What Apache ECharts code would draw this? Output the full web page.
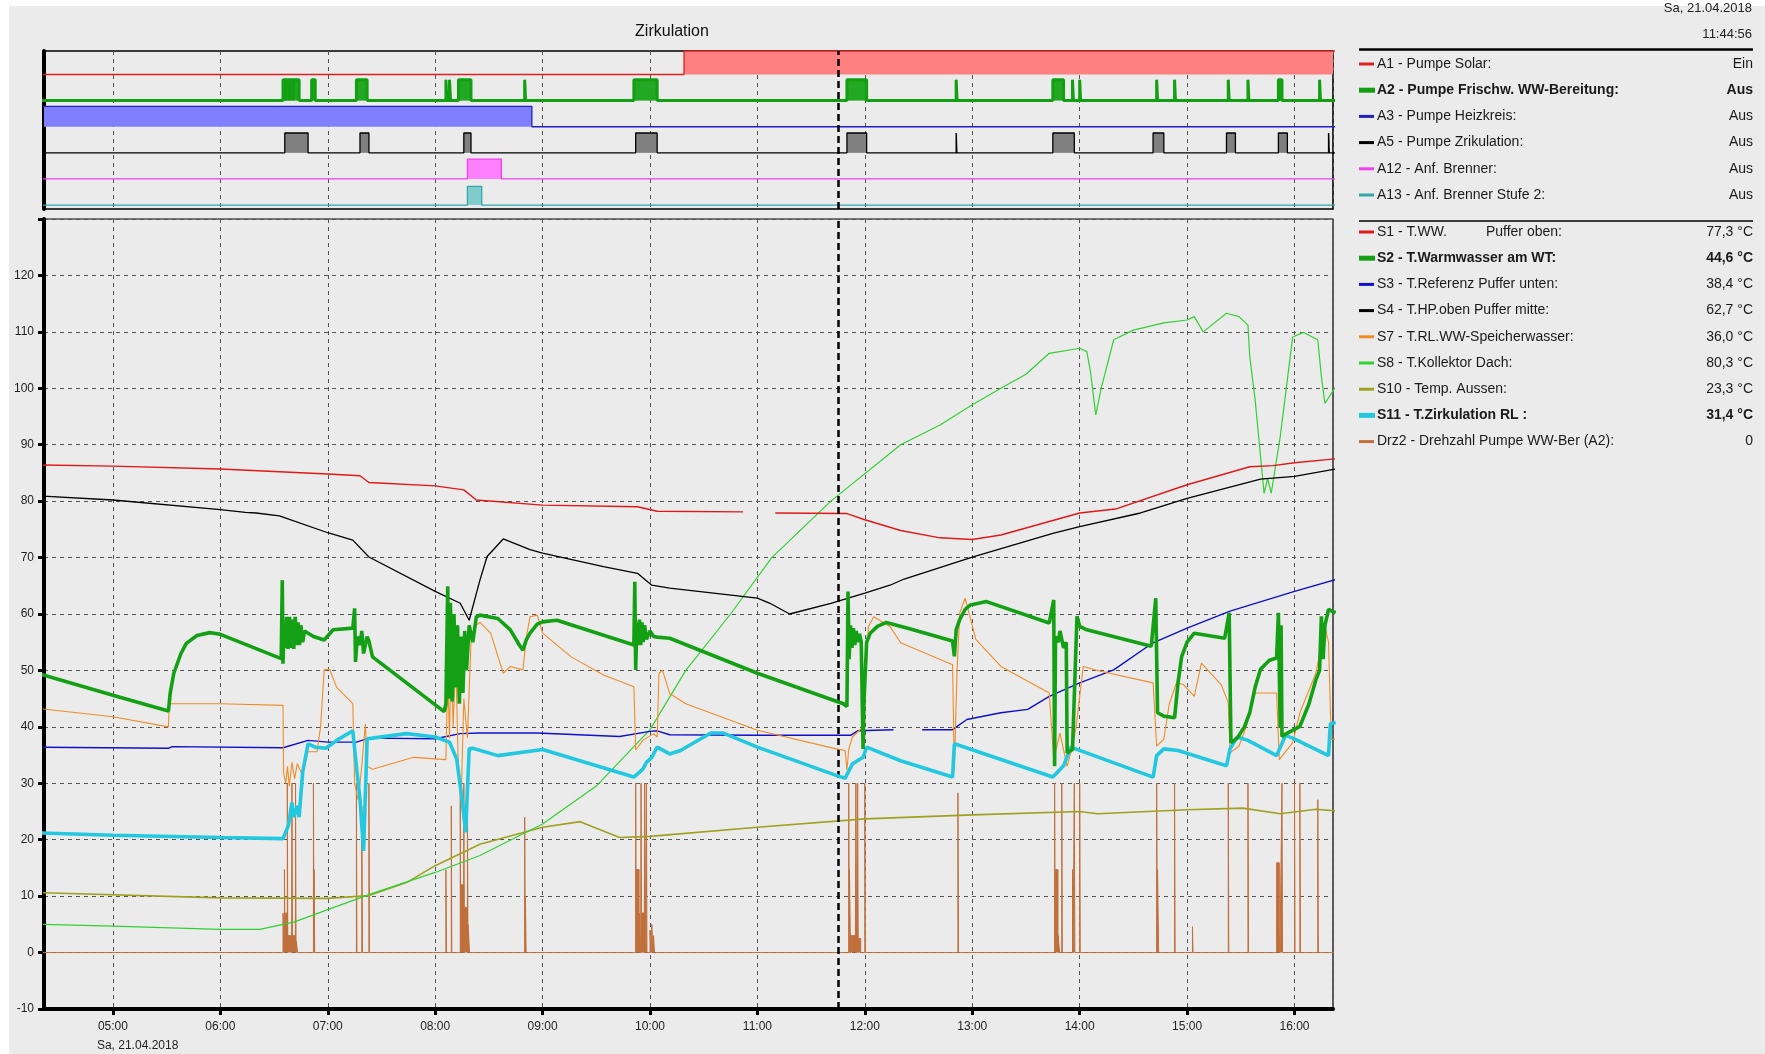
<!DOCTYPE html>
<html><head><meta charset="utf-8">
<script src="https://cdn.jsdelivr.net/npm/echarts@6/dist/echarts.min.js"></script>
<style>html,body{margin:0;padding:0;background:#ebebeb}#c{width:1765px;height:1054px}</style>
</head><body><div id="c"></div><script>
// ---------- axis / time settings ----------
const xStart = "04:21:30", xEnd = "16:21:30", cursorAt = "11:44:56";
const yMin = -10, yMax = 130, yStep = 10;
const dateLabel = "Sa, 21.04.2018";

// ---------- analog series [time, value] ----------
const s1 = [["04:20",86.4],["05:00",86.2],["06:00",85.7],["07:00",84.8],["07:18",84.5],["07:23",83.3],["08:00",82.7],["08:16",82.0],["08:23",80.2],["09:00",79.3],["09:53",79.0],["10:04",78.2],["10:52",78.1],["10:53",null],["11:10",77.9],["11:50",77.8],["12:00",76.7],["12:20",74.8],["12:42",73.5],["13:00",73.2],["13:16",74.0],["14:00",77.9],["14:20",78.6],["15:00",82.9],["15:35",86.1],["15:48",86.3],["16:00",86.8],["16:23",87.5]];
const s2 = [["04:20",49.3],["05:00",45.6],["05:31",42.8],["05:32",46],["05:34",49.5],["05:38",53],["05:41",54.8],["05:47",56.2],["05:54",56.7],["06:00",56.4],["06:34",52.1],["06:34.6",66.0],["06:35",51.2],["06:35.6",58],["06:36.3",54],["06:37",59.5],["06:37.8",53.8],["06:38.6",59.5],["06:39.4",54],["06:40.2",59],["06:41",53.8],["06:41.8",59.5],["06:42.6",54.5],["06:43.4",58.5],["06:44.2",54.5],["06:45",58],["06:46",55],["06:47",57],["06:52",56.0],["06:58",55.4],["07:03",57.2],["07:14",57.5],["07:15",61.0],["07:15.5",51.5],["07:16.5",56],["07:18",54.5],["07:19",57],["07:20",53],["07:22",56],["07:23",55.2],["07:25",52.4],["08:05",42.7],["08:06",44],["08:07",64.9],["08:07.5",45],["08:08.5",62],["08:09.5",44.5],["08:10.5",60],["08:11.5",47],["08:12.5",58],["08:13.5",44.1],["08:14.5",56],["08:15.5",46],["08:16.5",57],["08:17.5",50],["08:19",58],["08:21",55],["08:23",59.5],["08:25",59.8],["08:35",59.2],["08:42",57.2],["08:47",54.5],["08:49",53.6],["08:51",55.5],["08:53",56.6],["08:57",58.2],["09:00",58.6],["09:08",58.9],["09:51",54.5],["09:51.5",65.7],["09:52",50.1],["09:52.7",58.5],["09:53.4",54.5],["09:54.1",59],["09:54.8",54.5],["09:55.5",58.5],["09:56.2",55],["09:57",58],["09:58",55.5],["10:00",57],["10:02",56],["10:04",55.9],["10:11",55.7],["11:00",49.5],["11:48",44.1],["11:50",43.6],["11:50.6",64.0],["11:51.2",52],["11:52",58],["11:52.8",54],["11:53.6",57.5],["11:54.4",54.5],["11:55.2",57],["11:56",55],["11:57",56.5],["11:58",55],["11:59",36.1],["11:59.6",45],["12:01",55],["12:03",56.6],["12:07",57.8],["12:12",58.5],["12:25",57.4],["12:49",55.2],["12:50",52.5],["12:51",57.2],["12:53",59],["12:56",60.8],["12:59",61.6],["13:08",62.2],["13:43",58.4],["13:45.5",62.5],["13:46",33.0],["13:46.5",56],["13:48",55],["13:49",57],["13:51",54],["13:52.5",55],["13:53",35.4],["13:56",36.0],["13:58.5",59.6],["14:00",57.8],["14:04",57.2],["14:40",54.3],["14:42.5",62.8],["14:43.5",42.5],["14:47",41.9],["14:53",41.6],["14:55",48],["14:57",52.5],["15:00",55],["15:04",56.6],["15:21",55.7],["15:23.5",60.2],["15:24.5",37.2],["15:28",38],["15:32",40],["15:35",42.5],["15:38",47],["15:41",50.2],["15:46",51.8],["15:50",52.2],["15:51",60.2],["15:52",40],["15:52.5",58],["15:53",38.3],["15:56",38.9],["16:03",40.1],["16:08",44],["16:12",48.4],["16:14",50],["16:15",59.6],["16:16",52],["16:17",58],["16:19",60.8],["16:23",60.2]];
const s3 = [["04:20",36.4],["05:31",36.2],["05:33",36.5],["06:35",36.3],["06:49",37.6],["07:00",37.3],["07:16",37.3],["07:23",38.0],["08:00",37.9],["08:14",38.8],["08:25",38.9],["08:57",38.9],["09:43",38.3],["10:00",39.2],["10:04",39.3],["10:11",38.6],["11:00",38.5],["11:52",38.5],["11:56",39.3],["12:16",39.5],["12:17",null],["12:32",39.5],["12:49",39.5],["12:57",41.3],["13:16",42.5],["13:31",43.1],["13:43",45.4],["14:00",47.8],["14:19",50.1],["14:41",54.9],["15:00",57.5],["15:24",60.5],["16:00",64.0],["16:23",66.1]];
const s4 = [["04:20",80.9],["05:00",80.2],["06:00",78.5],["06:14",78.0],["06:20",77.9],["06:33",77.4],["07:00",74.4],["07:14",73.1],["07:23",70.1],["08:00",64.0],["08:14",61.9],["08:19",58.9],["08:25",66.0],["08:29",70.2],["08:38",73.3],["08:53",71.4],["09:00",70.8],["09:34",68.4],["09:53",67.2],["10:01",65.1],["10:11",64.6],["11:00",62.8],["11:07",61.9],["11:18",60.0],["11:41",61.9],["12:00",63.7],["12:14",65.1],["12:22",66.2],["13:00",70.1],["13:45",74.3],["14:00",75.5],["14:34",77.9],["15:00",80.5],["15:41",83.9],["16:00",84.4],["16:23",85.7]];
const s7 = [["04:20",43.2],["05:00",41.8],["05:31",40.0],["05:31.5",44.1],["06:00",44.1],["06:35",43.8],["06:35.3",32],["06:36.5",30],["06:37.5",33],["06:38.5",29.5],["06:40",33.7],["06:41.5",30.8],["06:43",33.5],["06:45",32],["06:47",33],["06:49",35.6],["06:54",35.6],["06:56",40],["06:58",50.1],["07:01",50.2],["07:05",47],["07:14",44.1],["07:15",30],["07:17",27],["07:19",33],["07:21",40.5],["07:22",33],["07:25",32.5],["07:48",34.6],["08:06",34.2],["08:07",50],["08:08",38],["08:09",55.4],["08:10",40],["08:11.5",52],["08:13",32],["08:14.5",27],["08:16",45],["08:18",38],["08:20",55],["08:22",57.8],["08:25",58.5],["08:31",56.6],["08:38",49.5],["08:42",50.7],["08:49",50.1],["08:51",56],["08:53",59.5],["08:57",59.8],["09:00",56.6],["09:16",52.4],["09:34",49.2],["09:51",47.1],["09:52",35.9],["09:56",37.6],["10:02",38.8],["10:04",38.2],["10:05",49.5],["10:07",50.0],["10:11",45.9],["10:20",44.1],["11:00",39.4],["11:44",36.1],["11:49",35.8],["11:50",32.3],["11:51",36],["11:53",38.2],["11:57",39.4],["11:59",40],["12:02",57.8],["12:05",59.5],["12:14",57.8],["12:20",54.9],["12:49",51.0],["12:50",32.4],["12:51.5",50],["12:53",60.2],["12:56",62.8],["13:02",55.5],["13:16",50.7],["13:43",46.0],["13:45.5",34.2],["13:49",38.9],["13:53",33],["13:56",36.6],["13:58",40],["14:02",50.7],["14:11",49.9],["14:41",47.8],["14:43",36.6],["14:47",37.8],["14:50",44],["14:54",47.8],["14:58",47.5],["15:04",45.4],["15:08",51.3],["15:19",47.5],["15:23",44.3],["15:24",35.4],["15:29",36.6],["15:33",40],["15:38",46.0],["15:50",46.0],["15:51.5",34.2],["15:59",37.2],["16:03",42.5],["16:12",49.6],["16:17",57.8],["16:19",55],["16:20.5",37.8],["16:23",37.8]];
const s8 = [["04:20",5.0],["05:00",4.7],["06:00",4.1],["06:22",4.1],["06:41",5.4],["07:00",7.6],["07:25",10.5],["08:00",14.2],["08:25",17.2],["09:00",22.8],["09:30",29.5],["10:00",39.5],["10:20",50],["10:45",60],["11:08",70],["11:41",80],["12:20",90],["12:42",93.5],["13:00",97.1],["13:16",100],["13:30",102.5],["13:43",106.2],["14:00",107.1],["14:04",106.5],["14:06",103],["14:09",95.3],["14:12",100],["14:19",108.6],["14:30",110.3],["14:47",111.6],["15:00",112.1],["15:04",112.7],["15:09",110.0],["15:22",113.3],["15:29",112.7],["15:34",111.2],["15:35",105.6],["15:38",98],["15:41",88],["15:43",81.4],["15:45",84],["15:47",81.4],["15:52",91.4],["15:59",109.1],["16:05",109.9],["16:13",108.6],["16:15",102.1],["16:17",97.3],["16:23",100.3]];
const s10 = [["04:20",10.6],["06:00",9.7],["07:00",9.6],["07:23",10.1],["07:44",12.4],["08:00",15.4],["08:25",19.2],["09:00",22.2],["09:21",23.2],["09:43",20.4],["10:00",20.6],["11:00",22.2],["12:00",23.7],["13:00",24.4],["14:00",25.0],["14:10",24.6],["15:00",25.3],["15:31",25.6],["15:52",24.6],["16:12",25.4],["16:23",25.1]];
const s11 = [["04:20",21.2],["05:00",20.8],["06:00",20.4],["06:35",20.2],["06:38",22.5],["06:40",26.6],["06:41",24],["06:43",26],["06:44",24.0],["06:46",32.0],["06:49",37.0],["06:53",36.4],["06:59",36.2],["07:05",37.6],["07:14",39.3],["07:16",33],["07:18",27.2],["07:20",18.0],["07:22",37.9],["07:25",38.0],["07:44",38.8],["08:00",38.2],["08:08",37.3],["08:12",34.3],["08:15",27.2],["08:17",21.3],["08:19",36.1],["08:21",36.2],["08:35",34.9],["09:00",36.0],["09:51",31.1],["09:56",32.5],["09:58",33.7],["10:01",34.6],["10:04",36.4],["10:11",35.2],["10:17",35.8],["10:34",38.9],["10:41",38.9],["11:00",36.4],["11:44",31.4],["11:49",30.9],["11:53",33.4],["11:59",34.6],["12:01",36.4],["12:20",34.0],["12:49",31.1],["12:50",37.0],["13:45",31.1],["13:51",33.1],["13:55",36.4],["14:41",31.1],["14:43",34.9],["14:47",36.1],["14:55",35.8],["15:22",33.1],["15:24",36.1],["15:28",38.2],["15:34",37.6],["15:50",34.9],["15:55",38.5],["15:59",38.0],["16:19",34.9],["16:20",40.5],["16:23",40.8]];
// Drz2 pulses: [start, duration in minutes, height]
const drzPulses = [["06:35",0.8,7],["06:35.8",0.3,14.7],["06:36.2",1.2,7],["06:37.4",0.3,30],["06:37.8",2,3],["06:40",0.3,30],["06:40.4",1.5,3],["06:42",0.3,30],["06:42.4",0.8,2],["06:52",0.3,30],["06:52.4",0.3,14.7],["07:16",0.3,30],["07:19",0.4,26],["07:23",0.3,30],["08:06",0.3,14.7],["08:09",0.3,26],["08:14",0.3,30],["08:14.4",1.5,12],["08:16",0.3,30],["08:16.4",1.6,8],["08:18",0.3,30],["08:18.4",0.8,5],["08:50",0.3,24],["08:50.4",0.4,10],["09:52",0.3,30],["09:52.4",1.5,14.7],["09:54",0.8,7],["09:55",0.3,30],["09:55.4",1.4,7],["09:57",0.3,30],["09:58",0.3,30],["10:00",0.6,4],["10:01",0.6,5],["10:02",0.5,3],["11:51",0.3,30],["11:51.4",0.6,14.7],["11:52.2",2.5,3],["11:55",0.3,30],["11:56",0.3,30],["11:56.5",1.2,2.5],["12:00",0.3,30],["12:52",0.3,28.3],["13:46",0.3,30],["13:46.4",1.5,14.7],["13:48",0.8,3],["13:50",0.3,30],["13:56",0.3,14.7],["13:57",0.3,30],["14:00",0.3,30],["14:43",0.4,30],["14:43.5",0.6,14.7],["14:53",0.3,30],["15:03",0.3,4.6],["15:23",0.3,30],["15:34",0.3,30],["15:50",1.5,15.9],["15:51.6",0.3,3],["15:53",0.3,30],["16:00",0.3,30],["16:03",0.3,30],["16:13",0.3,27.1]];

// ---------- digital channels: on-intervals [start, end] ----------
const a1On = [["10:19","16:40"]];
const a2On = [["06:35","06:36.6"],["06:37","06:38.6"],["06:39","06:40.6"],["06:41","06:44"],["06:51","06:53"],["07:16","07:22"],["08:06","08:06.6"],["08:08","08:08.6"],["08:13","08:20"],["08:50","08:50.5"],["09:51","10:04"],["11:50","12:01"],["12:51","12:51.5"],["13:45","13:51"],["13:56","13:56.5"],["14:00","14:00.5"],["14:43","14:43.5"],["14:53","14:53.5"],["15:23","15:23.5"],["15:34","15:34.5"],["15:51","15:53"],["16:14","16:14.5"]];
const a3On = [["04:00","08:54"]];
const a5On = [["06:36","06:49"],["07:18","07:23"],["08:16","08:20"],["09:52","10:04"],["11:50","12:01"],["12:51","12:51.4"],["13:45","13:57"],["14:41","14:47"],["15:22","15:27"],["15:51","15:56"],["16:19","16:19.4"]];
const a12On = [["08:18","08:37"]];
const a13On = [["08:18","08:26"]];

// ---------- legend text ----------
const actNames = ["A1 - Pumpe Solar:","A2 - Pumpe Frischw. WW-Bereitung:","A3 - Pumpe Heizkreis:","A5 - Pumpe Zrikulation:","A12 - Anf. Brenner:","A13 - Anf. Brenner Stufe 2:"];
const actValues = ["Ein","Aus","Aus","Aus","Aus","Aus"];
const actBold = [false,true,false,false,false,false];
const sensNames = ["S1 - T.WW.          Puffer oben:","S2 - T.Warmwasser am WT:","S3 - T.Referenz Puffer unten:","S4 - T.HP.oben Puffer mitte:","S7 - T.RL.WW-Speicherwasser:","S8 - T.Kollektor Dach:","S10 - Temp. Aussen:","S11 - T.Zirkulation RL :","Drz2 - Drehzahl Pumpe WW-Ber (A2):"];
const sensValues = ["77,3 °C","44,6 °C","38,4 °C","62,7 °C","36,0 °C","80,3 °C","23,3 °C","31,4 °C","0"];
const sensBold = [false,true,false,false,false,false,false,true,false];

// ---------- styles ----------
const actColors = ["#e02020","#12a012","#2020c0","#000000","#f040f0","#30a8a8"];
const actFills = ["#ff8080","#22a822","#8080ff","#808080","#ff80ff","#80cccc"];
const actWidths = [1.3,3,1.3,1.3,1.3,1.3];
const sensColors = ["#e01818","#14a014","#1010c8","#000000","#f08c28","#33d033","#a0a020","#22c8e0","#c0703c"];
const FONT = "'Liberation Sans', Arial, sans-serif";

function T(s){ const p=s.split(':'); const h=+p[0], m=+p[1], sec=p[2]?+p[2]:0; return new Date(2018,3,21,h,0,0).getTime()+m*60000+sec*1000; }
function mk(arr){ return arr.map(p=>[T(p[0]), p[1]==null?'-':p[1]]); }
function pad(n){ return (n<10?'0':'')+n; }

const chart = echarts.init(document.getElementById('c'), null, {renderer:'canvas'});

// digital rows
const rowBase = i => 5.15 - i;
const actOn = [a1On,a2On,a3On,a5On,a12On,a13On];
const actHigh = [0.9,0.8,0.78,0.76,0.76,0.72];
const series = [];
actOn.forEach((on,i)=>{
  const b=rowBase(i), hi=actHigh[i];
  const pts=[[T("04:00"),b]];
  on.forEach(([s,e])=>{pts.push([T(s),b],[T(s),b+hi],[T(e),b+hi],[T(e),b]);});
  pts.push([T("16:40"),b]);
  const fillCol = actFills[i];
  series.push({type:'custom', xAxisIndex:0, yAxisIndex:0, clip:true, silent:true, z:1,
    encode:{x:[0,1], y:[2,3]},
    data: on.map(([s,e])=>[T(s),T(e),b,b+hi]),
    renderItem:(params,api)=>{
      const p0=api.coord([api.value(0),api.value(2)]);
      const p1=api.coord([api.value(1),api.value(3)]);
      return {type:'rect', shape:{x:p0[0], y:p1[1], width:Math.max(p1[0]-p0[0],1), height:p0[1]-p1[1]}, style:{fill:fillCol}};
    }});
  const ser = {type:'line', xAxisIndex:0, yAxisIndex:0, data:pts, symbol:'none', silent:true, z:3,
    lineStyle:{color:actColors[i], width:actWidths[i]}, animation:false};
  if(i===0){ ser.markLine = {symbol:['none','none'], silent:true, label:{show:false}, animation:false,
    lineStyle:{color:'#000', width:2.5, type:[7,4]}, data:[{xAxis:T(cursorAt)}]}; }
  series.push(ser);
});

// Drz2 step data
const drzPts=[[T("04:00"),0]];
drzPulses.forEach(([s,d,h])=>{ const a=T(s), e=a+d*60000; drzPts.push([a,0],[a,h],[e,h],[e,0]); });
drzPts.push([T("16:40"),0]);

function ln(data,color,width,z){ return {type:'line', xAxisIndex:1, yAxisIndex:1, data:data, symbol:'none', silent:true, z:z, animation:false, lineStyle:{color:color,width:width}}; }
const drzSer = ln(drzPts, sensColors[8], 1, 2); drzSer.areaStyle = {color:sensColors[8], opacity:1};
series.push(drzSer);
series.push(ln(mk(s10), sensColors[6], 1.6, 3));
series.push(ln(mk(s8), sensColors[5], 1.2, 3));
series.push(ln(mk(s3), sensColors[2], 1.4, 4));
series.push(ln(mk(s4), sensColors[3], 1.3, 4));
series.push(ln(mk(s1), sensColors[0], 1.4, 4));
series.push(ln(mk(s7), sensColors[4], 1.1, 5));
series.push(ln(mk(s11), sensColors[7], 3.6, 6));
const s2Ser = ln(mk(s2), sensColors[1], 3.6, 7);
s2Ser.markLine = {symbol:['none','none'], silent:true, label:{show:false}, animation:false,
  lineStyle:{color:'#000', width:2.5, type:[7,4]}, data:[{xAxis:T(cursorAt)}]};
series.push(s2Ser);

const gridDash = {show:true, lineStyle:{color:'#555', width:1, type:[4,4]}};
const hour = 3600000;
const option = {
  backgroundColor:'#ebebeb',
  animation:false,
  grid:[
    {left:44, top:51, width:1289, height:158, show:true, borderColor:'#000', borderWidth:1.6, backgroundColor:'transparent'},
    {left:44, top:219, width:1289, height:790, show:true, borderColor:'#000', borderWidth:1.2, backgroundColor:'transparent'}
  ],
  xAxis:[
    {type:'time', gridIndex:0, min:T(xStart), max:T(xEnd), minInterval:hour, maxInterval:hour, splitNumber:12,
     axisLine:{show:false}, axisTick:{show:false}, axisLabel:{show:false}, splitLine:gridDash},
    {type:'time', gridIndex:1, min:T(xStart), max:T(xEnd), minInterval:hour, maxInterval:hour, splitNumber:12,
     axisLine:{show:true, onZero:false, lineStyle:{color:'#000', width:4}},
     axisTick:{show:true, length:6, lineStyle:{color:'#000', width:3}},
     axisLabel:{show:true, margin:12, color:'#222', fontSize:12, fontFamily:FONT,
       formatter:(v)=>{const d=new Date(v); return pad(d.getHours())+':'+pad(d.getMinutes());}},
     splitLine:gridDash}
  ],
  yAxis:[
    {type:'value', gridIndex:0, min:0, max:6.05, axisLine:{show:true, lineStyle:{color:'#000', width:4}},
     axisTick:{show:false}, axisLabel:{show:false}, splitLine:{show:false}},
    {type:'value', gridIndex:1, min:yMin, max:yMax, interval:yStep,
     axisLine:{show:true, onZero:false, lineStyle:{color:'#000', width:4}},
     axisTick:{show:true, length:6, lineStyle:{color:'#000', width:3}},
     axisLabel:{show:true, margin:10, color:'#222', fontSize:12, fontFamily:FONT, formatter:(v)=> v===yMax?'':String(v)},
     splitLine:gridDash}
  ],
  series:series
};
chart.setOption(option);

// ---------- texts / legend ----------
const g = [];
g.push({type:'rect', shape:{x:0,y:0,width:1765,height:6}, style:{fill:'#fff'}, silent:true, z:0});
g.push({type:'rect', shape:{x:0,y:0,width:9,height:1054}, style:{fill:'#fff'}, silent:true, z:0});
g.push({type:'text', x:672, y:32, style:{text:'Zirkulation', font:'16px '+FONT, fill:'#111', textAlign:'center', textVerticalAlign:'middle'}, silent:true});
g.push({type:'text', x:1752, y:8, style:{text:dateLabel, font:'13px '+FONT, fill:'#222', textAlign:'right', textVerticalAlign:'middle'}, silent:true});
g.push({type:'text', x:1752, y:34, style:{text:'11:44:56', font:'13px '+FONT, fill:'#222', textAlign:'right', textVerticalAlign:'middle'}, silent:true});
const x5 = chart.convertToPixel({xAxisIndex:1}, T("05:00"));
g.push({type:'text', x:x5-16, y:1046, style:{text:dateLabel, font:'12px '+FONT, fill:'#222', textAlign:'left', textVerticalAlign:'middle'}, silent:true});
// legend rules
g.push({type:'line', shape:{x1:1359,y1:49.5,x2:1753,y2:49.5}, style:{stroke:'#000', lineWidth:2.5}, silent:true});
g.push({type:'line', shape:{x1:1359,y1:221,x2:1753,y2:221}, style:{stroke:'#000', lineWidth:1.5}, silent:true});
function legendRow(y, name, val, col, bold){
  const hh = bold?5:3, ww = bold?16:15;
  g.push({type:'rect', shape:{x:1359, y:y-hh/2, width:ww, height:hh}, style:{fill:col}, silent:true});
  g.push({type:'text', x:1377, y:y, style:{text:name, font:(bold?'bold ':'')+'14px '+FONT, fill:'#1a1a1a', textVerticalAlign:'middle'}, silent:true});
  g.push({type:'text', x:1753, y:y, style:{text:val, font:(bold?'bold ':'')+'14px '+FONT, fill:'#1a1a1a', textAlign:'right', textVerticalAlign:'middle'}, silent:true});
}
actNames.forEach((n,i)=>legendRow(64+i*26.2, n, actValues[i], actColors[i], actBold[i]));
sensNames.forEach((n,i)=>legendRow(232+i*26.2, n, sensValues[i], sensColors[i], sensBold[i]));
chart.setOption({graphic:g});
</script></body></html>
